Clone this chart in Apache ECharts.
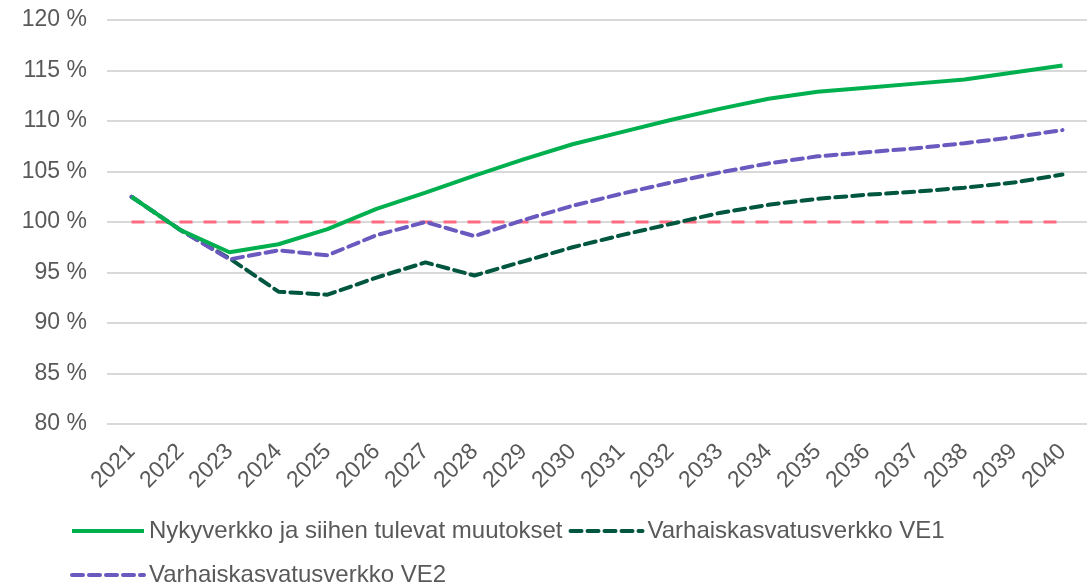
<!DOCTYPE html>
<html>
<head>
<meta charset="utf-8">
<style>
  html, body { margin: 0; padding: 0; background: #fff; }
  #chart { width: 1089px; height: 585px; }
</style>
<script src="https://cdn.jsdelivr.net/npm/echarts@6/dist/echarts.min.js"></script>
</head>
<body>
<div id="chart"></div>
<script>
  const years = ['2021', '2022', '2023', '2024', '2025', '2026', '2027', '2028', '2029', '2030',
    '2031', '2032', '2033', '2034', '2035', '2036', '2037', '2038', '2039', '2040']
  const nykyverkko = [102.5, 99.2, 97.0, 97.8, 99.3, 101.3, 102.9, 104.6, 106.2, 107.7,
    108.9, 110.1, 111.2, 112.2, 112.9, 113.3, 113.7, 114.1, 114.8, 115.5]
  const ve1 = [102.5, 99.2, 96.4, 93.1, 92.8, 94.5, 96.0, 94.7, 96.1, 97.5,
    98.7, 99.8, 100.9, 101.7, 102.3, 102.7, 103.0, 103.4, 103.9, 104.7]
  const ve2 = [102.5, 99.2, 96.3, 97.2, 96.7, 98.7, 100.0, 98.6, 100.2, 101.6,
    102.8, 103.9, 104.9, 105.8, 106.5, 106.9, 107.3, 107.8, 108.4, 109.1]
  const baseline = years.map(() => 100)
  const yTicks = [80, 85, 90, 95, 100, 105, 110, 115, 120]

  const textColor = '#595959'
  const font = 'Liberation Sans, Arial, sans-serif'

  const myChart = echarts.init(document.getElementById('chart'))
  myChart.setOption({
    animation: false,
    textStyle: { fontFamily: font },
    grid: {
      left: 107,
      right: 2,
      top: 20,
      bottom: 161,
      outerBoundsMode: 'none'
    },
    legend: {
      left: 70,
      top: 512,
      padding: 0,
      width: 1000,
      itemWidth: 72,
      itemHeight: 14,
      itemGap: 6,
      itemStyle: { opacity: 0 },
      lineStyle: { width: 4 },
      textStyle: { color: textColor, fontSize: 24, lineHeight: 38, fontFamily: font },
      data: ['Nykyverkko ja siihen tulevat muutokset', 'Varhaiskasvatusverkko VE1', 'Varhaiskasvatusverkko VE2']
    },
    xAxis: {
      type: 'category',
      boundaryGap: true,
      data: years,
      axisTick: { show: false },
      axisLine: { show: false },
      axisLabel: {
        rotate: 45,
        color: textColor,
        fontSize: 23,
        margin: 24,
        interval: 0
      }
    },
    yAxis: {
      type: 'value',
      min: yTicks[0],
      max: yTicks[yTicks.length - 1],
      interval: 5,
      axisLine: { show: false },
      axisTick: { show: false },
      axisLabel: {
        color: textColor,
        fontSize: 23,
        margin: 20,
        formatter: '{value} %'
      },
      splitLine: { lineStyle: { color: '#d9d9d9', width: 2 } }
    },
    series: [
      {
        name: 'Perustaso',
        type: 'line',
        symbol: 'none',
        data: baseline,
        z: 1,
        lineStyle: { color: '#ff6b81', width: 3, type: [13, 11] },
        itemStyle: { color: '#ff6b81' }
      },
      {
        name: 'Nykyverkko ja siihen tulevat muutokset',
        type: 'line',
        symbol: 'none',
        data: nykyverkko,
        z: 4,
        lineStyle: { color: '#00b04f', width: 4 },
        itemStyle: { color: '#00b04f' }
      },
      {
        name: 'Varhaiskasvatusverkko VE1',
        type: 'line',
        symbol: 'none',
        data: ve1,
        z: 2,
        lineStyle: { color: '#00563f', width: 4, type: [11, 6], cap: 'round' },
        itemStyle: { color: '#00563f' }
      },
      {
        name: 'Varhaiskasvatusverkko VE2',
        type: 'line',
        symbol: 'none',
        data: ve2,
        z: 3,
        lineStyle: { color: '#6a5abf', width: 4, type: [11, 6], cap: 'round' },
        itemStyle: { color: '#6a5abf' }
      }
    ]
  })
</script>
</body>
</html>
